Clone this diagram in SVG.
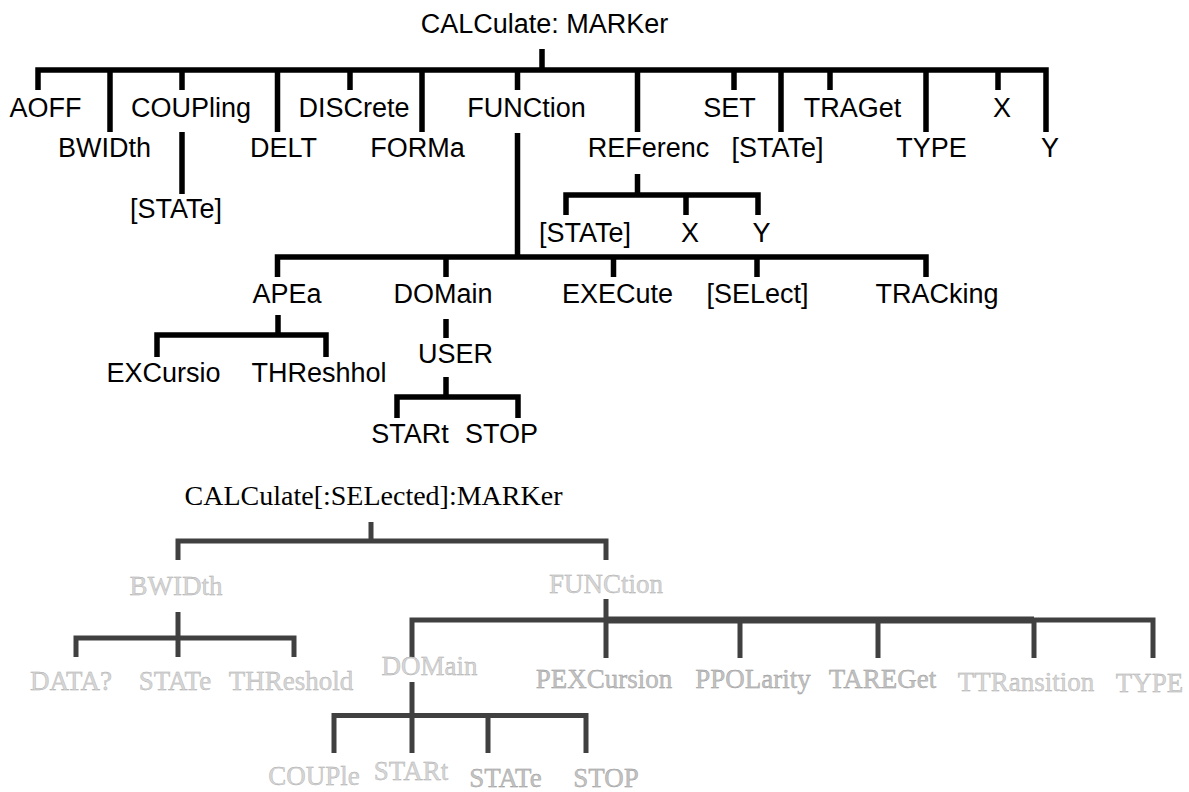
<svg xmlns="http://www.w3.org/2000/svg" width="1189" height="792" viewBox="0 0 1189 792">
<style>
.t{font-family:"Liberation Sans",Arial,sans-serif;font-size:27px;fill:#000;text-anchor:middle}
.s{font-family:"Liberation Serif","Times New Roman",serif;font-size:27px;text-anchor:middle}
.lt{fill:#d6d6d6;stroke:#a8a8a8;stroke-width:0.35}
.md{fill:#c2c2c2;stroke:#939393;stroke-width:0.35}
.k{fill:none;stroke:#000;stroke-width:5.5;stroke-linejoin:miter;stroke-linecap:butt}
.g{fill:none;stroke:#404040;stroke-width:5;stroke-linejoin:miter;stroke-linecap:butt}
</style>
<rect width="1189" height="792" fill="#fff"/>
<g id="connectors">
<path class="k" d="M542 49V70M38 90V70H1046V132"/>
<path class="k" d="M182 70V90M350 70V90M517.5 70V90M734 70V90M830 70V90M998 70V90"/>
<path class="k" d="M110 70V132M277.5 70V132M422 70V132M637.5 70V132M781 70V132M926 70V132"/>
<path class="k" d="M182 132V194"/>
<path class="k" d="M517.5 133V257"/>
<path class="k" d="M637.5 174V195M566 215V195H758V215M686 195V215"/>
<path class="k" d="M277.5 277V257H926V277M446 257V277M613.5 257V277M757 257V277"/>
<path class="k" d="M278 315V335M157 357V335H326V357"/>
<path class="k" d="M446 319V338"/>
<path class="k" d="M446 377V397M397 418V397H518V418"/>
<path class="g" d="M371 522V541M178 560V541H606V560"/>
<path class="g" d="M178 612V657M76 657V638H294V657"/>
<path class="g" d="M606 599V658M412 657V620H1153V658M740 620V658M878 620V658M1034 620V658"/>
<path class="g" d="M606 620H1034" style="stroke-width:7"/>
<path class="g" d="M412 682V753M334 753V715.5H586V753M488 715.5V753"/>
</g>
<g id="n-root"><text class="t" x="544.5" y="33">CALCulate: MARKer</text></g>
<g id="n-aoff"><text class="t" x="45.5" y="117">AOFF</text></g>
<g id="n-bwidth"><text class="t" x="104.5" y="157">BWIDth</text></g>
<g id="n-coupling"><text class="t" x="191" y="117">COUPling</text></g>
<g id="n-coupling-state"><text class="t" x="176" y="218">[STATe]</text></g>
<g id="n-delt"><text class="t" x="283.5" y="157">DELT</text></g>
<g id="n-discrete"><text class="t" x="354" y="117">DISCrete</text></g>
<g id="n-forma"><text class="t" x="417.5" y="157">FORMa</text></g>
<g id="n-function"><text class="t" x="526.5" y="117">FUNCtion</text></g>
<g id="n-referenc"><text class="t" x="648.5" y="157">REFerenc</text></g>
<g id="n-set"><text class="t" x="729.5" y="117">SET</text></g>
<g id="n-state"><text class="t" x="777.5" y="157">[STATe]</text></g>
<g id="n-traget"><text class="t" x="852.5" y="117">TRAGet</text></g>
<g id="n-type"><text class="t" x="931.5" y="157">TYPE</text></g>
<g id="n-x"><text class="t" x="1002" y="117">X</text></g>
<g id="n-y"><text class="t" x="1050" y="157">Y</text></g>
<g id="n-ref-state"><text class="t" x="585" y="242">[STATe]</text></g>
<g id="n-ref-x"><text class="t" x="690" y="242">X</text></g>
<g id="n-ref-y"><text class="t" x="761.5" y="242">Y</text></g>
<g id="n-apea"><text class="t" x="287" y="303">APEa</text></g>
<g id="n-domain"><text class="t" x="443" y="303">DOMain</text></g>
<g id="n-execute"><text class="t" x="617.5" y="303">EXECute</text></g>
<g id="n-select"><text class="t" x="757.5" y="303">[SELect]</text></g>
<g id="n-tracking"><text class="t" x="937" y="303">TRACking</text></g>
<g id="n-excursio"><text class="t" x="163.5" y="382">EXCursio</text></g>
<g id="n-threshhol"><text class="t" x="319" y="382">THReshhol</text></g>
<g id="n-user"><text class="t" x="455.5" y="363">USER</text></g>
<g id="n-start"><text class="t" x="410" y="443">STARt</text></g>
<g id="n-stop"><text class="t" x="501.5" y="443">STOP</text></g>
<g id="b-root"><text class="s" x="373.5" y="505" style="font-size:28px">CALCulate[:SELected]:MARKer</text></g>
<g id="b-bwidth"><text class="s lt" x="176" y="595">BWIDth</text></g>
<g id="b-function"><text class="s lt" x="606" y="593">FUNCtion</text></g>
<g id="b-data"><text class="s lt" x="71" y="690">DATA?</text></g>
<g id="b-bw-state"><text class="s lt" x="175" y="690">STATe</text></g>
<g id="b-threshold"><text class="s lt" x="291" y="690">THReshold</text></g>
<g id="b-domain"><text class="s lt" x="429.5" y="675">DOMain</text></g>
<g id="b-pexcursion"><text class="s md" x="604" y="688">PEXCursion</text></g>
<g id="b-ppolarity"><text class="s md" x="753" y="688">PPOLarity</text></g>
<g id="b-tareget"><text class="s md" x="882.5" y="688">TAREGet</text></g>
<g id="b-ttransition"><text class="s lt" x="1026" y="691">TTRansition</text></g>
<g id="b-type"><text class="s lt" x="1149.5" y="692">TYPE</text></g>
<g id="b-couple"><text class="s lt" x="314" y="785">COUPle</text></g>
<g id="b-start"><text class="s lt" x="411" y="780">STARt</text></g>
<g id="b-dom-state"><text class="s md" x="505.5" y="787">STATe</text></g>
<g id="b-stop"><text class="s md" x="606" y="787">STOP</text></g>
</svg>
